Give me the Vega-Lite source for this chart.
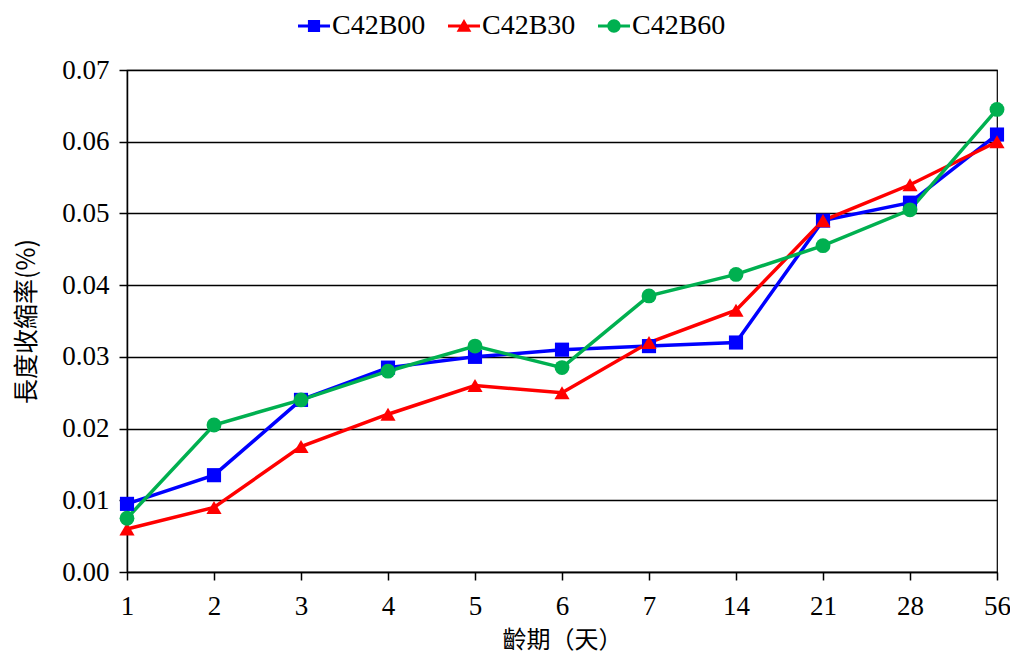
{
  "$schema": "https://vega.github.io/schema/vega-lite/v6.json",
  "width": 870,
  "height": 502,
  "autosize": {"type": "none"},
  "padding": {"left": 127, "top": 70, "right": 13, "bottom": 85},
  "background": "white",
  "config": {
    "view": {"stroke": "#000", "strokeWidth": 1.2},
    "font": "Liberation Serif"
  },
  "data": {
    "values": [
      {"day": "1", "series": "C42B00", "value": 0.0095},
      {"day": "2", "series": "C42B00", "value": 0.0135},
      {"day": "3", "series": "C42B00", "value": 0.024},
      {"day": "4", "series": "C42B00", "value": 0.0285},
      {"day": "5", "series": "C42B00", "value": 0.030},
      {"day": "6", "series": "C42B00", "value": 0.031},
      {"day": "7", "series": "C42B00", "value": 0.0315},
      {"day": "14", "series": "C42B00", "value": 0.032},
      {"day": "21", "series": "C42B00", "value": 0.049},
      {"day": "28", "series": "C42B00", "value": 0.0515},
      {"day": "56", "series": "C42B00", "value": 0.061},
      {"day": "1", "series": "C42B30", "value": 0.006},
      {"day": "2", "series": "C42B30", "value": 0.009},
      {"day": "3", "series": "C42B30", "value": 0.0175},
      {"day": "4", "series": "C42B30", "value": 0.022},
      {"day": "5", "series": "C42B30", "value": 0.026},
      {"day": "6", "series": "C42B30", "value": 0.025},
      {"day": "7", "series": "C42B30", "value": 0.032},
      {"day": "14", "series": "C42B30", "value": 0.0365},
      {"day": "21", "series": "C42B30", "value": 0.049},
      {"day": "28", "series": "C42B30", "value": 0.054},
      {"day": "56", "series": "C42B30", "value": 0.060},
      {"day": "1", "series": "C42B60", "value": 0.0075},
      {"day": "2", "series": "C42B60", "value": 0.0205},
      {"day": "3", "series": "C42B60", "value": 0.024},
      {"day": "4", "series": "C42B60", "value": 0.028},
      {"day": "5", "series": "C42B60", "value": 0.0315},
      {"day": "6", "series": "C42B60", "value": 0.0285},
      {"day": "7", "series": "C42B60", "value": 0.0385},
      {"day": "14", "series": "C42B60", "value": 0.0415},
      {"day": "21", "series": "C42B60", "value": 0.0455},
      {"day": "28", "series": "C42B60", "value": 0.0505},
      {"day": "56", "series": "C42B60", "value": 0.0645}
    ]
  },
  "encoding": {
    "x": {
      "field": "day",
      "type": "ordinal",
      "sort": ["1", "2", "3", "4", "5", "6", "7", "14", "21", "28", "56"],
      "scale": {"type": "point", "padding": 0},
      "axis": {
        "title": "齡期（天）",
        "titleFont": "Noto Sans CJK TC",
        "titleFontSize": 24,
        "titleFontWeight": "normal",
        "titleColor": "#000",
        "titlePadding": 9,
        "labelFont": "Liberation Serif",
        "labelFontSize": 27,
        "labelColor": "#000",
        "labelPadding": 13,
        "labelAngle": 0,
        "domainColor": "#000",
        "domainWidth": 1.5,
        "tickColor": "#000",
        "tickWidth": 1.5,
        "tickSize": 8,
        "grid": false
      }
    },
    "y": {
      "field": "value",
      "type": "quantitative",
      "scale": {"domain": [0, 0.07], "nice": false},
      "axis": {
        "title": "長度收縮率(%)",
        "titleFont": "Noto Sans CJK TC",
        "titleFontSize": 25,
        "titleFontWeight": "normal",
        "titleColor": "#000",
        "titlePadding": 22,
        "values": [0, 0.01, 0.02, 0.03, 0.04, 0.05, 0.06, 0.07],
        "format": ".2f",
        "labelFont": "Liberation Serif",
        "labelFontSize": 27,
        "labelColor": "#000",
        "labelPadding": 10,
        "domainColor": "#000",
        "domainWidth": 1.5,
        "tickColor": "#000",
        "tickWidth": 1.5,
        "tickSize": 8,
        "grid": true,
        "gridColor": "#000",
        "gridWidth": 1.3,
        "gridOpacity": 1
      }
    },
    "color": {
      "field": "series",
      "type": "nominal",
      "scale": {"domain": ["C42B00", "C42B30", "C42B60"], "range": ["#0000FF", "#FF0000", "#00B050"]},
      "legend": {
        "title": null,
        "orient": "none",
        "direction": "horizontal",
        "legendX": 171,
        "legendY": -60,
        "columns": 3,
        "columnPadding": 22,
        "labelFont": "Liberation Serif",
        "labelFontSize": 28,
        "labelColor": "#000",
        "labelOffset": 2,
        "symbolSize": 1024,
        "symbolType": "M-1,-0.1H1V0.1H-1Z",
        "symbolStrokeWidth": 0,
        "encode": {
          "symbols": {
            "update": {
              "shape": {
                "signal": "datum.value === 'C42B00' ? 'M-1,-0.1H1V0.1H-1Z M-0.38,-0.38H0.38V0.38H-0.38Z' : datum.value === 'C42B30' ? 'M-1,-0.1H1V0.1H-1Z M0,-0.44L0.46,0.36H-0.46Z' : 'M-1,-0.1H1V0.1H-1Z M0.42,0A0.42,0.42,0,1,1,-0.42,0A0.42,0.42,0,1,1,0.42,0Z'"
              },
              "fill": {"signal": "scale('color', datum.value)"},
              "strokeWidth": {"value": 0},
              "opacity": {"value": 1}
            }
          }
        }
      }
    }
  },
  "layer": [
    {
      "mark": {"type": "line", "strokeWidth": 3.5}
    },
    {
      "transform": [{"filter": "datum.series === 'C42B00'"}],
      "mark": {"type": "point", "shape": "square", "filled": true, "opacity": 1, "size": 200}
    },
    {
      "transform": [{"filter": "datum.series === 'C42B30'"}],
      "mark": {"type": "point", "shape": "triangle-up", "filled": true, "opacity": 1, "size": 230}
    },
    {
      "transform": [{"filter": "datum.series === 'C42B60'"}],
      "mark": {"type": "point", "shape": "circle", "filled": true, "opacity": 1, "size": 220}
    }
  ]
}
